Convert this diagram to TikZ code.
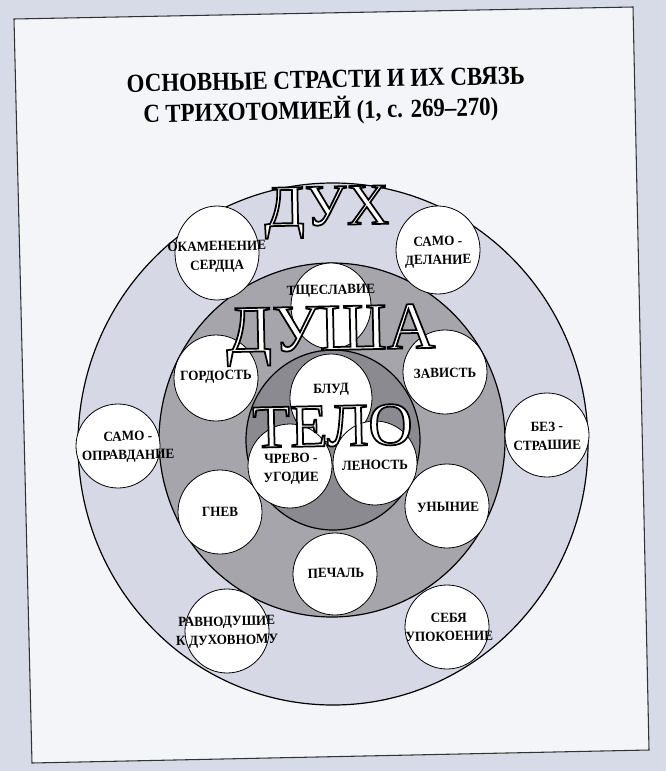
\documentclass[tikz,border=0pt]{standalone}
\usepackage{fontspec}
\usepackage{xcolor}
\setmainfont{Liberation Serif}
\newfontfamily\headfont[FakeStretch=0.88]{Liberation Serif}
\newfontfamily\wordfont[FakeStretch=0.94]{Liberation Serif}
\newfontfamily\bigfont{Liberation Serif}
\definecolor{pagebg}{HTML}{D6DBE7}
\definecolor{framebg}{HTML}{F4F5F8}
\definecolor{duxfill}{HTML}{D6D9E5}
\definecolor{dushafill}{HTML}{A5A5AB}
\definecolor{telofill}{HTML}{8A8A90}
% hollow letters: white fill, black stroke
\newcommand{\hollow}[1]{{\color{white}\special{pdf:literal direct 0 G 2 Tr 1.3 w}#1\special{pdf:literal direct 0 Tr}}}

\begin{document}
\begin{tikzpicture}[x=0.75pt,y=-0.75pt,
    tilt/.style={rotate=1.2},
    ring/.style={draw=black,line width=0.9pt},
    passion/.style={draw=black,line width=0.6pt,fill=white},
    word/.style={tilt,inner sep=0pt,align=center,font=\wordfont\bfseries\fontsize{10.5}{14}\selectfont},
    heading/.style={tilt,inner sep=0pt,anchor=base,font=\headfont\bfseries\fontsize{19.5}{22}\selectfont},
    bigword/.style={tilt,inner sep=0pt,anchor=base,text height=0.66em,text depth=0pt,font=\bigfont\fontsize{#1}{#1}\selectfont}]

    % page and frame
    \fill[pagebg] (0,0) rectangle (666,771);
    \useasboundingbox (0,0) rectangle (666,771);
    \coordinate (tl) at (14,19);
    \coordinate (tr) at (633,7);
    \coordinate (br) at (649,750);
    \coordinate (bl) at (32,763);
    \filldraw[fill=framebg,draw=black!80,line width=0.8pt] (tl) -- (tr) -- (br) -- (bl) -- cycle;

    \node[heading] (title1) at (326,88) {ОСНОВНЫЕ СТРАСТИ И ИХ СВЯЗЬ};
    \node[heading] (title2) at (321,119) {С ТРИХОТОМИЕЙ (1, с. 269–270)};

    % spirit, soul, body
    \filldraw[ring,fill=duxfill] (333,444) ellipse [x radius=255,y radius=261];
    \filldraw[ring,fill=dushafill] (332,440) ellipse [x radius=173,y radius=177];
    \filldraw[ring,fill=telofill] (333,440) ellipse [x radius=87,y radius=90];

    % passions
    \draw[passion] (217,253) ellipse [x radius=42,y radius=47] (217,257) node[word] (okam) {ОКАМЕНЕНИЕ\\СЕРДЦА};
    \draw[passion] (438,250) ellipse [x radius=42,y radius=44] (438,252) node[word] (samodel) {САМО -\\ДЕЛАНИЕ};
    \draw[passion] (118,446) ellipse [x radius=42,y radius=42] (128,447) node[word] (samoopr) {САМО -\\ОПРАВДАНИЕ};
    \draw[passion] (547,435) ellipse [x radius=42,y radius=42] (547,436) node[word] (bezstr) {БЕЗ -\\СТРАШИЕ};
    \draw[passion] (227,631) ellipse [x radius=42,y radius=42] (227,632) node[word] (ravn) {РАВНОДУШИЕ\\К ДУХОВНОМУ};
    \draw[passion] (447,627) ellipse [x radius=42,y radius=42] (449,627) node[word] (sebya) {СЕБЯ\\УПОКОЕНИЕ};

    \draw[passion] (331,306) ellipse [x radius=40,y radius=43] (331,291) node[word] (tshch) {ТЩЕСЛАВИЕ};
    \draw[passion] (216,378) ellipse [x radius=42,y radius=43] (216,377) node[word] (gord) {ГОРДОСТЬ};
    \draw[passion] (445,372) ellipse [x radius=42,y radius=42] (445,373) node[word] (zavist) {ЗАВИСТЬ};
    \draw[passion] (220,512) ellipse [x radius=42,y radius=42] (220,512) node[word] (gnev) {ГНЕВ};
    \draw[passion] (447,506) ellipse [x radius=42,y radius=42] (448,507) node[word] (unyn) {УНЫНИЕ};
    \draw[passion] (335,574) ellipse [x radius=42,y radius=41] (336,573) node[word] (pechal) {ПЕЧАЛЬ};

    \draw[passion] (331,398) ellipse [x radius=41,y radius=44] (331,390) node[word] (blud) {БЛУД};
    \draw[passion] (290,466) ellipse [x radius=42,y radius=42] (291,469) node[word] (chrevo) {ЧРЕВО -\\УГОДИЕ};
    \draw[passion] (375,463) ellipse [x radius=42,y radius=42] (375,465) node[word] (lenost) {ЛЕНОСТЬ};

    % big hollow words
    \node[bigword=44] (dux) at (327,225) {\hollow{ДУХ}};
    \node[bigword=50] (dusha) at (331,350) {\hollow{ДУША}};
    \node[bigword=46] (telo) at (333,446) {\hollow{ТЕЛО}};
\end{tikzpicture}
\end{document}
